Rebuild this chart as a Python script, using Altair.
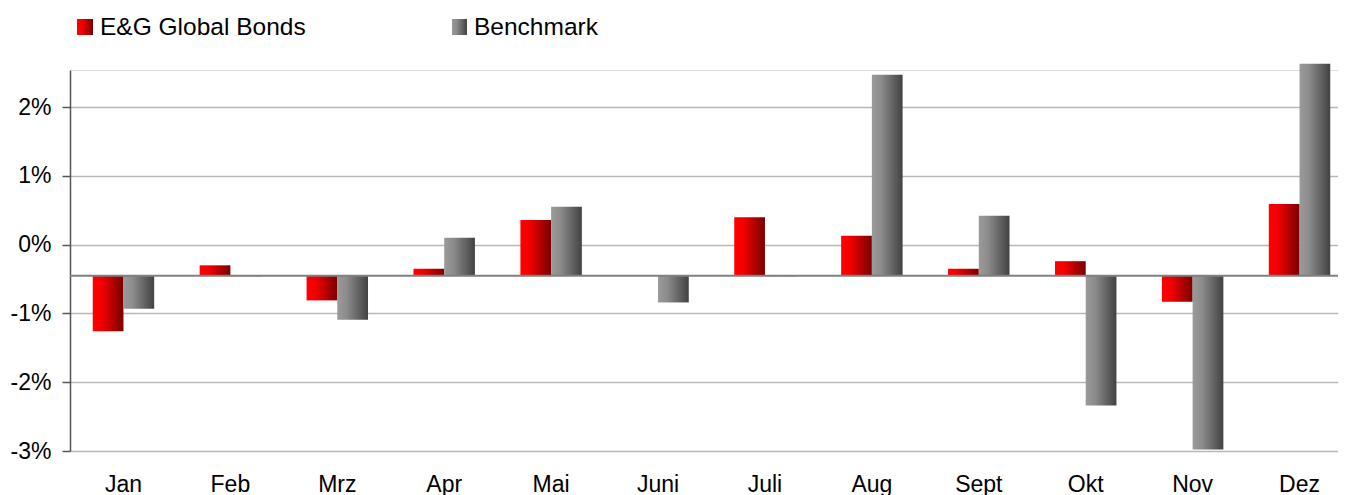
import altair as alt
import pandas as pd

MONTHS = ["Jan", "Feb", "Mrz", "Apr", "Mai", "Juni", "Juli", "Aug", "Sept", "Okt", "Nov", "Dez"]
SERIES = ["E&G Global Bonds", "Benchmark"]
EG_VALUES = [-1.26, -0.30, -0.81, -0.35, 0.36, None, 0.40, 0.13, -0.35, -0.24, -0.83, 0.59]
BM_VALUES = [-0.93, -0.46, -1.09, 0.10, 0.55, -0.84, -0.46, 2.47, 0.42, -2.34, -2.98, 2.63]
Y_TICKS = [-3, -2, -1, 0, 1, 2]
BASELINE = -0.45

rows = []
for m, e, b in zip(MONTHS, EG_VALUES, BM_VALUES):
    rows.append({"month": m, "series": SERIES[0], "value": e, "base": BASELINE})
    rows.append({"month": m, "series": SERIES[1], "value": b, "base": BASELINE})
df = pd.DataFrame(rows)

FONT = "Liberation Sans"
W, H = 1268, 381
X_RANGE = 1283

red_grad = alt.Gradient(
    gradient="linear", x1=0, x2=1, y1=0, y2=0,
    stops=[alt.GradientStop(color="#ff0000", offset=0),
           alt.GradientStop(color="#f20000", offset=0.3),
           alt.GradientStop(color="#780000", offset=1)],
)
gray_grad = alt.Gradient(
    gradient="linear", x1=0, x2=1, y1=0, y2=0,
    stops=[alt.GradientStop(color="#9a9a9a", offset=0),
           alt.GradientStop(color="#8c8c8c", offset=0.3),
           alt.GradientStop(color="#424242", offset=1)],
)

x_enc = alt.X(
    "month:N", sort=MONTHS,
    scale=alt.Scale(paddingInner=0, paddingOuter=0, range=[0, X_RANGE]),
    axis=alt.Axis(title=None, domain=False, ticks=False, grid=False, labelAngle=0,
                  labelPadding=22, labelFontSize=23, labelFont=FONT, labelColor="#000000"),
)
xo_enc = alt.XOffset("series:N", sort=SERIES,
                     scale=alt.Scale(domain=SERIES, paddingOuter=0.74, paddingInner=0))
y_enc = alt.Y(
    "value:Q",
    scale=alt.Scale(domain=[-3, 2.54], nice=False, zero=False),
    axis=alt.Axis(title=None, values=Y_TICKS, labelExpr="datum.value + '%'",
                  grid=True, gridColor="#b8b8b8", gridWidth=1.5,
                  domainColor="#555555", domainWidth=1.5, tickColor="#555555",
                  tickSize=8, tickWidth=1.5, labelPadding=11, labelFontSize=23,
                  labelFont=FONT, labelColor="#000000"),
)

base = alt.Chart(df)
red_bars = base.transform_filter(alt.datum.series == SERIES[0]).mark_bar(color=red_grad).encode(
    x=x_enc, xOffset=xo_enc, y=y_enc, y2="base:Q"
)
gray_bars = base.transform_filter(alt.datum.series == SERIES[1]).mark_bar(color=gray_grad).encode(
    x=x_enc, xOffset=xo_enc, y=y_enc, y2="base:Q"
)
baseline = alt.Chart(pd.DataFrame({"b": [BASELINE]})).mark_rule(
    color="#808080", strokeWidth=2
).encode(y=alt.Y("b:Q"))

leg1_rect = alt.Chart(pd.DataFrame({"s": [SERIES[0]]})).mark_rect(color=red_grad).encode(
    x=alt.value(7), x2=alt.value(23), y=alt.value(-51), y2=alt.value(-35)
)
leg1_text = alt.Chart(pd.DataFrame({"s": [SERIES[0]]})).mark_text(
    align="left", baseline="alphabetic", fontSize=24.5, font=FONT, color="#000000"
).encode(x=alt.value(30), y=alt.value(-35.5), text="s:N")
leg2_rect = alt.Chart(pd.DataFrame({"s": [SERIES[1]]})).mark_rect(color=gray_grad).encode(
    x=alt.value(382), x2=alt.value(397), y=alt.value(-51), y2=alt.value(-35)
)
leg2_text = alt.Chart(pd.DataFrame({"s": [SERIES[1]]})).mark_text(
    align="left", baseline="alphabetic", fontSize=24.5, font=FONT, color="#000000"
).encode(x=alt.value(404), y=alt.value(-35.5), text="s:N")

chart = alt.layer(
    red_bars, gray_bars, baseline, leg1_rect, leg1_text, leg2_rect, leg2_text
).properties(
    width=W, height=H,
    autosize=alt.AutoSizeParams(type="none"),
    padding={"left": 62, "top": 62, "right": 0, "bottom": 46},
).configure_view(strokeWidth=0).configure(background="#ffffff")

chart.save("out.html", embed_options={"renderer": "svg", "actions": False})
